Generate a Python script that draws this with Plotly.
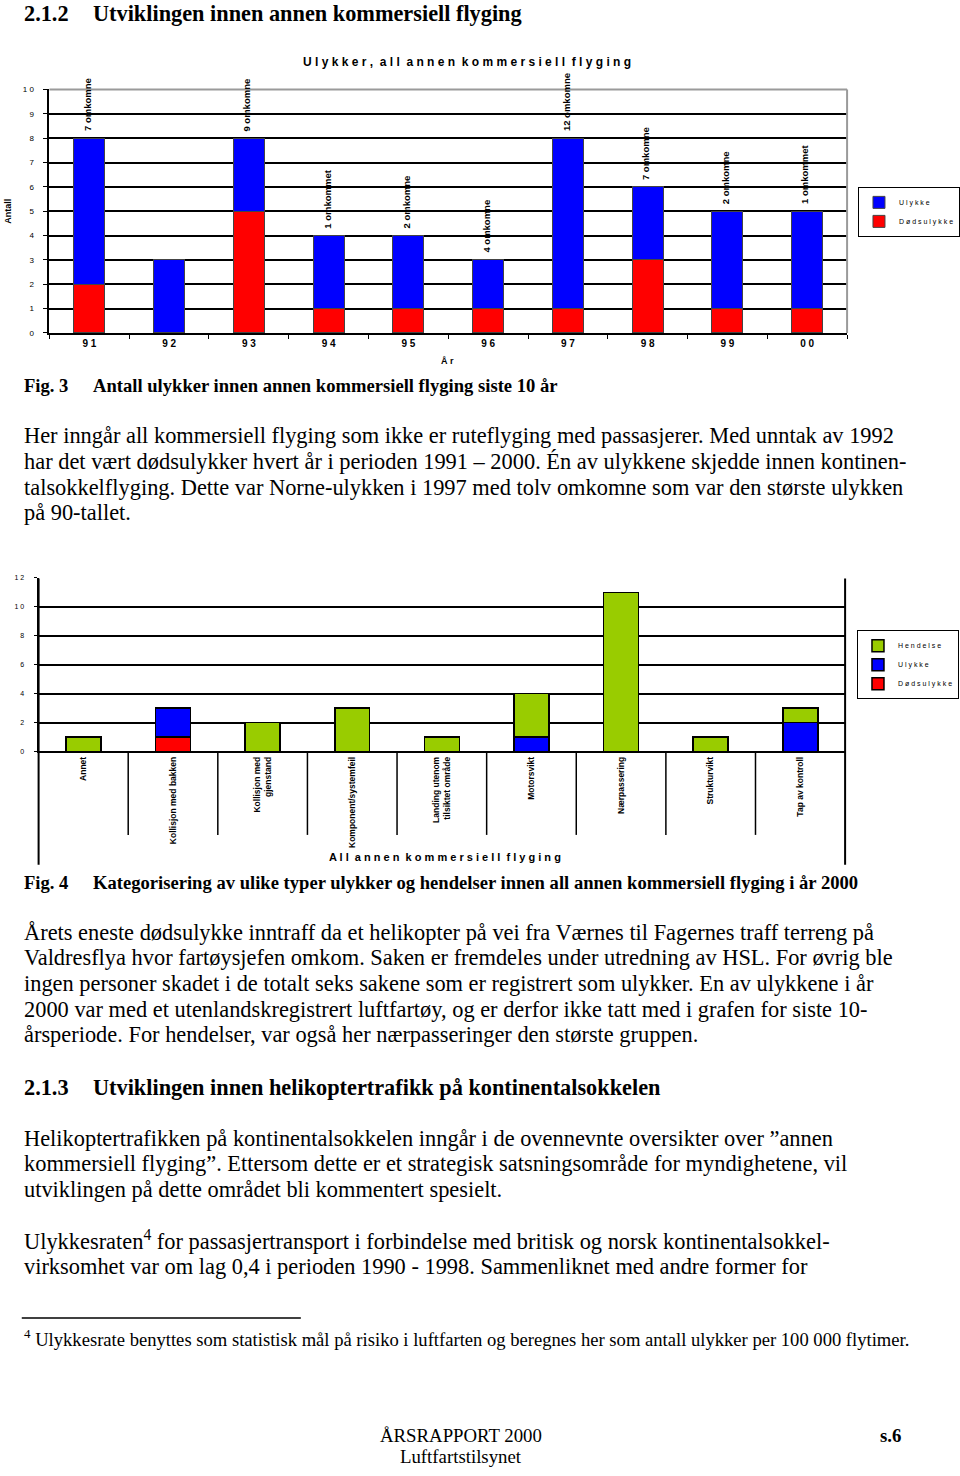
import plotly.graph_objects as go

# ---------------- data ----------------
years = ["91", "92", "93", "94", "95", "96", "97", "98", "99", "00"]
year_labels = ["9 1", "9 2", "9 3", "9 4", "9 5", "9 6", "9 7", "9 8", "9 9", "0 0"]
fatal_1 = [2, 0, 5, 1, 1, 1, 1, 3, 1, 1]          # Dødsulykke
accident_1 = [6, 3, 3, 3, 3, 2, 7, 3, 4, 4]       # Ulykke
killed_labels = ["7 omkomne", "", "9 omkomne", "1 omkommet", "2 omkomne",
                 "4 omkomne", "12 omkomne", "7 omkomne", "2 omkomne", "1 omkommet"]
y1_ticks = [0, 1, 2, 3, 4, 5, 6, 7, 8, 9, 10]
y1_ticktext = ["0", "1", "2", "3", "4", "5", "6", "7", "8", "9", "1 0"]

cats_2 = ["Annet", "Kollisjon med bakken", "Kollisjon med<br>gjenstand",
          "Komponent/systemfeil", "Landing utenom<br>tilsiktet område",
          "Motorsvikt", "Nærpassering", "Strukturvikt", "Tap av kontroll"]
fatal_2 = [0, 1, 0, 0, 0, 0, 0, 0, 0]       # Dødsulykke
accident_2 = [0, 2, 0, 0, 0, 1, 0, 0, 2]    # Ulykke
incident_2 = [1, 0, 2, 3, 1, 3, 11, 1, 1]   # Hendelse
y2_ticks = [0, 2, 4, 6, 8, 10, 12]
y2_ticktext = ["0", "2", "4", "6", "8", "1 0", "1 2"]

SANS = "Liberation Sans, Arial, sans-serif"
SERIF = "Liberation Serif, Times New Roman, serif"
RED, BLUE, GREEN = "#FF0000", "#0000FF", "#99CC00"


def spaced(s):
    return "\u00a0\u00a0".join(" ".join(w) for w in s.split(" "))


def X(px):
    return px / 960.0


def Y(py):
    return 1 - py / 1476.0


fig = go.Figure()

# ---------------- chart 1 ----------------
fig.add_trace(go.Bar(x=years, y=fatal_1, name=spaced("Dødsulykke"), marker_color=RED,
                     marker_line=dict(color="#444", width=1), xaxis="x", yaxis="y",
                     legend="legend"))
fig.add_trace(go.Bar(x=years, y=accident_1, name=spaced("Ulykke"), marker_color=BLUE,
                     marker_line=dict(color="#444", width=1), xaxis="x", yaxis="y",
                     legend="legend"))

# ---------------- chart 2 ----------------
fig.add_trace(go.Bar(x=cats_2, y=fatal_2, name=spaced("Dødsulykke"), marker_color=RED,
                     marker_line=dict(color="black", width=1.5), xaxis="x2", yaxis="y2",
                     legend="legend2"))
fig.add_trace(go.Bar(x=cats_2, y=accident_2, name=spaced("Ulykke"), marker_color=BLUE,
                     marker_line=dict(color="black", width=1.5), xaxis="x2", yaxis="y2",
                     legend="legend2"))
fig.add_trace(go.Bar(x=cats_2, y=incident_2, name=spaced("Hendelse"), marker_color=GREEN,
                     marker_line=dict(color="black", width=1.5), xaxis="x2", yaxis="y2",
                     legend="legend2"))

annotations = []

# omkomne labels
for i, (a, b, lab) in enumerate(zip(fatal_1, accident_1, killed_labels)):
    if lab:
        annotations.append(dict(x=i, y=a + b, xref="x", yref="y", text=lab, textangle=-90,
                                showarrow=False, yanchor="bottom", xanchor="center", yshift=5,
                                xshift=-2, font=dict(family=SANS, size=9.5, color="black", weight="bold")))


def txt(xp, yp, text, size, bold=False, family=SERIF, anchor="left", angle=0):
    annotations.append(dict(x=X(xp), y=Y(yp), xref="paper", yref="paper", text=text,
                            showarrow=False, xanchor=anchor, yanchor="middle", textangle=angle,
                            font=dict(family=family, size=size, color="black",
                                      weight="bold" if bold else "normal")))


# chart texts
txt(472, 58, spaced("Ulykker, all annen kommersiell flyging"), 12, True, SANS, "center")
txt(8, 208, "Antall", 9, True, SANS, "center", -90)
txt(452, 359, spaced("År"), 9, True, SANS, "center")
txt(450, 858, spaced("All annen kommersiell flyging"), 11, True, SANS, "center")

# document texts (serif, slightly raised to match baseline)
d = -2
txt(22, 12 + d, "2.1.2", 22.3, True)
txt(92, 12 + d, "Utviklingen innen annen kommersiell flyging", 22.3, True)
txt(22, 386 + d, "Fig. 3", 18.6, True)
txt(92, 386 + d, "Antall ulykker innen annen kommersiell flyging siste 10 år", 18.6, True)
para1 = ["Her inngår all kommersiell flyging som ikke er ruteflyging med passasjerer. Med unntak av 1992",
         "har det vært dødsulykker hvert år i perioden 1991 – 2000. Én av ulykkene skjedde innen kontinen-",
         "talsokkelflyging. Dette var Norne-ulykken i 1997 med tolv omkomne som var den største ulykken",
         "på 90-tallet."]
for i, line in enumerate(para1):
    txt(22, 436 + d + i * 26, line, 22.4)

txt(22, 886 + d, "Fig. 4", 18.6, True)
txt(92, 886 + d, "Kategorisering av ulike typer ulykker og hendelser innen all annen kommersiell flyging i år 2000", 18.6, True)
para2 = ["Årets eneste dødsulykke inntraff da et helikopter på vei fra Værnes til Fagernes traff terreng på",
         "Valdresflya hvor fartøysjefen omkom. Saken er fremdeles under utredning av HSL. For øvrig ble",
         "ingen personer skadet i de totalt seks sakene som er registrert som ulykker. En av ulykkene i år",
         "2000 var med et utenlandskregistrert luftfartøy, og er derfor ikke tatt med i grafen for siste 10-",
         "årsperiode. For hendelser, var også her nærpasseringer den største gruppen."]
for i, line in enumerate(para2):
    txt(22, 936 + d + i * 25.8, line, 22.4)

txt(22, 1092 + d, "2.1.3", 22.3, True)
txt(92, 1092 + d, "Utviklingen innen helikoptertrafikk på kontinentalsokkelen", 22.3, True)
para3 = ["Helikoptertrafikken på kontinentalsokkelen inngår i de ovennevnte oversikter over ”annen",
         "kommersiell flyging”. Ettersom dette er et strategisk satsningsområde for myndighetene, vil",
         "utviklingen på dette området bli kommentert spesielt."]
for i, line in enumerate(para3):
    txt(22, 1143 + d + i * 26, line, 22.4)
txt(22, 1246 + d, "Ulykkesraten<sup>4</sup> for passasjertransport i forbindelse med britisk og norsk kontinentalsokkel-", 22.4)
txt(22, 1272 + d, "virksomhet var om lag 0,4 i perioden 1990 - 1998. Sammenliknet med andre former for", 22.4)
txt(22, 1344 + d, "<sup>4</sup> Ulykkesrate benyttes som statistisk mål på risiko i luftfarten og beregnes her som antall ulykker per 100 000 flytimer.", 18.6)

txt(466, 1442 + d, "ÅRSRAPPORT 2000", 18.8, False, SERIF, "center")
txt(466, 1463 + d, "Luftfartstilsynet", 18.8, False, SERIF, "center")
txt(900, 1442 + d, "s.6", 18.8, True, SERIF, "center")

shapes = []
# chart 1 gray frame (top, right)
shapes.append(dict(type="line", xref="x domain", yref="y domain", x0=0, x1=1, y0=1, y1=1,
                   line=dict(color="#9a9a9a", width=2)))
shapes.append(dict(type="line", xref="x domain", yref="y domain", x0=1, x1=1, y0=0, y1=1,
                   line=dict(color="#9a9a9a", width=2)))
# chart 2 category separators and frame extensions
for i in range(len(cats_2) - 1):
    shapes.append(dict(type="line", xref="x2", yref="paper", x0=i + 0.5, x1=i + 0.5,
                       y0=Y(752), y1=Y(836), line=dict(color="black", width=1.5)))
shapes.append(dict(type="line", xref="x2 domain", yref="paper", x0=0, x1=0,
                   y0=Y(866), y1=Y(578), line=dict(color="black", width=2)))
shapes.append(dict(type="line", xref="x2 domain", yref="paper", x0=1, x1=1,
                   y0=Y(866), y1=Y(578), line=dict(color="black", width=2)))
# footnote rule
shapes.append(dict(type="line", xref="paper", yref="paper", x0=X(22), x1=X(304),
                   y0=Y(1322), y1=Y(1322), line=dict(color="black", width=1.5)))

legend_common = dict(xanchor="left", yanchor="top", bordercolor="black", borderwidth=1,
                     bgcolor="white", traceorder="reversed", tracegroupgap=0, itemwidth=30,
                     font=dict(family=SANS, size=7, color="black"))

fig.update_layout(
    width=960, height=1476, margin=dict(l=0, r=0, t=0, b=0),
    paper_bgcolor="white", plot_bgcolor="white",
    barmode="stack", bargap=0.61, showlegend=True,
    annotations=annotations, shapes=shapes,
    legend=dict(x=X(867), y=Y(184), **legend_common),
    legend2=dict(x=X(866), y=Y(630), **legend_common),
    xaxis=dict(domain=[X(50), X(856)], anchor="y", type="category",
               range=[-0.5, len(years) - 0.5],
               tickvals=years, ticktext=year_labels, showline=True, linecolor="black",
               linewidth=2, ticks="outside", tickson="boundaries", ticklen=4,
               tickcolor="black", showgrid=False,
               tickfont=dict(family=SANS, size=10, color="black", weight="bold")),
    yaxis=dict(domain=[Y(331), Y(86)], anchor="x", range=[0, 10], tickvals=y1_ticks,
               ticktext=y1_ticktext, showline=True, linecolor="black", linewidth=2,
               ticks="outside", ticklen=4, tickcolor="black", showgrid=True,
               gridcolor="black", gridwidth=1.5, zeroline=False, ticklabelstandoff=8,
               tickfont=dict(family=SANS, size=8, color="black")),
    xaxis2=dict(domain=[X(39), X(854)], anchor="y2", type="category",
                range=[-0.5, len(cats_2) - 0.5],
                showline=True, linecolor="black", linewidth=2, ticks="", tickangle=-90,
                showgrid=False,
                tickfont=dict(family=SANS, size=8.5, color="black", weight="bold")),
    yaxis2=dict(domain=[Y(752), Y(577.5)], anchor="x2", range=[0, 12], tickvals=y2_ticks,
                ticktext=y2_ticktext, showline=True, linecolor="black", linewidth=2,
                ticks="outside", ticklen=3, tickcolor="black", showgrid=True,
                gridcolor="black", gridwidth=1.5, zeroline=False, ticklabelstandoff=8,
                tickfont=dict(family=SANS, size=7, color="black")),
)

fig.write_html("out.html")
